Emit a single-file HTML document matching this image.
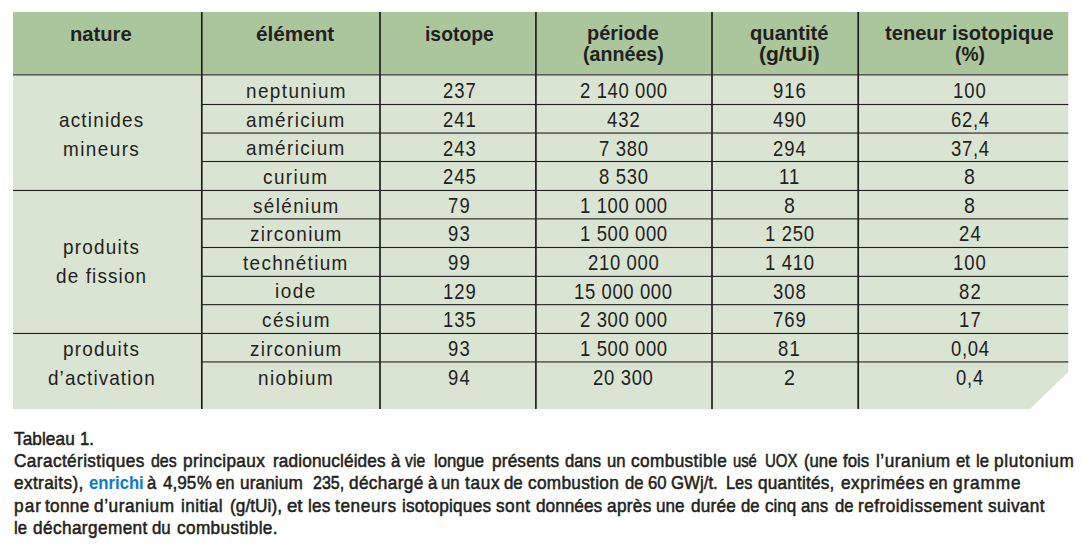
<!DOCTYPE html>
<html><head><meta charset="utf-8"><style>
html,body{margin:0;padding:0;background:#fff;width:1082px;height:545px;overflow:hidden;position:relative}
.t{position:absolute;white-space:nowrap;line-height:0;font-family:"Liberation Sans",sans-serif;color:#231f20;transform-origin:0 0}
.cap{-webkit-text-stroke:0.55px #231f20}
</style></head><body>
<svg style="position:absolute;left:0;top:0" width="1082" height="545" shape-rendering="geometricPrecision"><rect x="13" y="12" width="1055.3" height="62.5" fill="#abc69c"/><polygon points="13,74.5 1068.3,74.5 1068.3,372 1030,409 13,409" fill="#dae4d3"/><rect x="13" y="74.300" width="1055.3" height="1.1" fill="#231f20"/><rect x="201.8" y="103.950" width="866.5" height="1.1" fill="#231f20"/><rect x="201.8" y="132.500" width="866.5" height="1.1" fill="#231f20"/><rect x="201.8" y="160.950" width="866.5" height="1.1" fill="#231f20"/><rect x="13" y="189.910" width="1055.3" height="1.1" fill="#231f20"/><rect x="201.8" y="218.320" width="866.5" height="1.1" fill="#231f20"/><rect x="201.8" y="246.940" width="866.5" height="1.1" fill="#231f20"/><rect x="201.8" y="275.820" width="866.5" height="1.1" fill="#231f20"/><rect x="201.8" y="304.110" width="866.5" height="1.1" fill="#231f20"/><rect x="13" y="332.910" width="1055.3" height="1.1" fill="#231f20"/><rect x="201.8" y="361.380" width="866.5" height="1.1" fill="#231f20"/><rect x="200.950" y="12" width="1.7" height="397" fill="#231f20"/><rect x="379.150" y="12" width="1.7" height="397" fill="#231f20"/><rect x="535.050" y="12" width="1.7" height="397" fill="#231f20"/><rect x="711.150" y="12" width="1.7" height="397" fill="#231f20"/><rect x="857.350" y="12" width="1.7" height="397" fill="#231f20"/></svg>
<div class="t" style="left:70.15px;top:33.72px;font-size:21px;transform:scaleX(0.9611);font-weight:bold;">nature</div><div class="t" style="left:256.15px;top:33.62px;font-size:21px;transform:scaleX(0.9861);font-weight:bold;">élément</div><div class="t" style="left:424.60px;top:33.62px;font-size:21px;transform:scaleX(0.9210);font-weight:bold;">isotope</div><div class="t" style="left:587.30px;top:33.02px;font-size:21px;transform:scaleX(0.9460);font-weight:bold;">période</div><div class="t" style="left:582.75px;top:54.12px;font-size:21px;transform:scaleX(0.9363);font-weight:bold;">(années)</div><div class="t" style="left:750.05px;top:33.02px;font-size:21px;transform:scaleX(0.9608);font-weight:bold;">quantité</div><div class="t" style="left:758.95px;top:54.12px;font-size:21px;transform:scaleX(1.0017);font-weight:bold;">(g/tUi)</div><div class="t" style="left:885.45px;top:33.02px;font-size:21px;transform:scaleX(0.9574);font-weight:bold;">teneur isotopique</div><div class="t" style="left:954.80px;top:54.12px;font-size:21px;transform:scaleX(0.9174);font-weight:bold;">(%)</div><div class="t" style="left:245.51px;top:90.57px;font-size:21px;transform:scaleX(0.9000);letter-spacing:1.567px;">neptunium</div><div class="t" style="left:442.67px;top:91.03px;font-size:22px;transform:scaleX(0.8400);letter-spacing:1.092px;">237</div><div class="t" style="left:579.63px;top:91.03px;font-size:22px;transform:scaleX(0.8400);letter-spacing:0.728px;">2 140 000</div><div class="t" style="left:772.97px;top:91.03px;font-size:22px;transform:scaleX(0.8400);letter-spacing:1.092px;">916</div><div class="t" style="left:953.47px;top:91.03px;font-size:22px;transform:scaleX(0.8400);letter-spacing:1.092px;">100</div><div class="t" style="left:246.12px;top:119.57px;font-size:21px;transform:scaleX(0.9000);letter-spacing:1.548px;">américium</div><div class="t" style="left:442.67px;top:120.03px;font-size:22px;transform:scaleX(0.8400);letter-spacing:1.092px;">241</div><div class="t" style="left:606.87px;top:120.03px;font-size:22px;transform:scaleX(0.8400);letter-spacing:1.092px;">432</div><div class="t" style="left:772.97px;top:120.03px;font-size:22px;transform:scaleX(0.8400);letter-spacing:1.092px;">490</div><div class="t" style="left:950.75px;top:120.03px;font-size:22px;transform:scaleX(0.8400);letter-spacing:0.849px;">62,4</div><div class="t" style="left:246.12px;top:148.12px;font-size:21px;transform:scaleX(0.9000);letter-spacing:1.548px;">américium</div><div class="t" style="left:442.67px;top:148.58px;font-size:22px;transform:scaleX(0.8400);letter-spacing:1.092px;">243</div><div class="t" style="left:598.68px;top:148.58px;font-size:22px;transform:scaleX(0.8400);letter-spacing:0.820px;">7 380</div><div class="t" style="left:772.97px;top:148.58px;font-size:22px;transform:scaleX(0.8400);letter-spacing:1.092px;">294</div><div class="t" style="left:950.75px;top:148.58px;font-size:22px;transform:scaleX(0.8400);letter-spacing:0.849px;">37,4</div><div class="t" style="left:263.33px;top:176.57px;font-size:21px;transform:scaleX(0.9000);letter-spacing:1.610px;">curium</div><div class="t" style="left:442.67px;top:177.03px;font-size:22px;transform:scaleX(0.8400);letter-spacing:1.092px;">245</div><div class="t" style="left:598.68px;top:177.03px;font-size:22px;transform:scaleX(0.8400);letter-spacing:0.820px;">8 530</div><div class="t" style="left:779.15px;top:177.03px;font-size:22px;transform:scaleX(0.8400);letter-spacing:1.357px;">11</div><div class="t" style="left:964.37px;top:177.03px;font-size:22px;transform:scaleX(0.8900);">8</div><div class="t" style="left:252.67px;top:205.53px;font-size:21px;transform:scaleX(0.9000);letter-spacing:1.533px;">sélénium</div><div class="t" style="left:448.10px;top:205.99px;font-size:22px;transform:scaleX(0.8400);letter-spacing:1.458px;">79</div><div class="t" style="left:579.63px;top:205.99px;font-size:22px;transform:scaleX(0.8400);letter-spacing:0.728px;">1 100 000</div><div class="t" style="left:783.87px;top:205.99px;font-size:22px;transform:scaleX(0.8900);">8</div><div class="t" style="left:964.37px;top:205.99px;font-size:22px;transform:scaleX(0.8900);">8</div><div class="t" style="left:249.68px;top:233.94px;font-size:21px;transform:scaleX(0.9000);letter-spacing:1.436px;">zirconium</div><div class="t" style="left:448.10px;top:234.40px;font-size:22px;transform:scaleX(0.8400);letter-spacing:1.458px;">93</div><div class="t" style="left:579.63px;top:234.40px;font-size:22px;transform:scaleX(0.8400);letter-spacing:0.728px;">1 500 000</div><div class="t" style="left:764.78px;top:234.40px;font-size:22px;transform:scaleX(0.8400);letter-spacing:0.820px;">1 250</div><div class="t" style="left:958.90px;top:234.40px;font-size:22px;transform:scaleX(0.8400);letter-spacing:1.458px;">24</div><div class="t" style="left:243.18px;top:262.56px;font-size:21px;transform:scaleX(0.9000);letter-spacing:1.458px;">technétium</div><div class="t" style="left:448.10px;top:263.02px;font-size:22px;transform:scaleX(0.8400);letter-spacing:1.458px;">99</div><div class="t" style="left:587.82px;top:263.02px;font-size:22px;transform:scaleX(0.8400);letter-spacing:0.789px;">210 000</div><div class="t" style="left:764.78px;top:263.02px;font-size:22px;transform:scaleX(0.8400);letter-spacing:0.820px;">1 410</div><div class="t" style="left:953.47px;top:263.02px;font-size:22px;transform:scaleX(0.8400);letter-spacing:1.092px;">100</div><div class="t" style="left:275.15px;top:291.44px;font-size:21px;transform:scaleX(0.9000);letter-spacing:1.691px;">iode</div><div class="t" style="left:442.67px;top:291.90px;font-size:22px;transform:scaleX(0.8400);letter-spacing:1.092px;">129</div><div class="t" style="left:574.21px;top:291.90px;font-size:22px;transform:scaleX(0.8400);letter-spacing:0.728px;">15 000 000</div><div class="t" style="left:772.97px;top:291.90px;font-size:22px;transform:scaleX(0.8400);letter-spacing:1.092px;">308</div><div class="t" style="left:958.90px;top:291.90px;font-size:22px;transform:scaleX(0.8400);letter-spacing:1.458px;">82</div><div class="t" style="left:261.55px;top:319.73px;font-size:21px;transform:scaleX(0.9000);letter-spacing:1.699px;">césium</div><div class="t" style="left:442.67px;top:320.19px;font-size:22px;transform:scaleX(0.8400);letter-spacing:1.092px;">135</div><div class="t" style="left:579.63px;top:320.19px;font-size:22px;transform:scaleX(0.8400);letter-spacing:0.728px;">2 300 000</div><div class="t" style="left:772.97px;top:320.19px;font-size:22px;transform:scaleX(0.8400);letter-spacing:1.092px;">769</div><div class="t" style="left:958.90px;top:320.19px;font-size:22px;transform:scaleX(0.8400);letter-spacing:1.458px;">17</div><div class="t" style="left:249.68px;top:348.53px;font-size:21px;transform:scaleX(0.9000);letter-spacing:1.436px;">zirconium</div><div class="t" style="left:448.10px;top:348.99px;font-size:22px;transform:scaleX(0.8400);letter-spacing:1.458px;">93</div><div class="t" style="left:579.63px;top:348.99px;font-size:22px;transform:scaleX(0.8400);letter-spacing:0.728px;">1 500 000</div><div class="t" style="left:778.40px;top:348.99px;font-size:22px;transform:scaleX(0.8400);letter-spacing:1.458px;">81</div><div class="t" style="left:950.75px;top:348.99px;font-size:22px;transform:scaleX(0.8400);letter-spacing:0.849px;">0,04</div><div class="t" style="left:258.00px;top:377.90px;font-size:21px;transform:scaleX(0.9000);letter-spacing:1.565px;">niobium</div><div class="t" style="left:448.10px;top:378.36px;font-size:22px;transform:scaleX(0.8400);letter-spacing:1.458px;">94</div><div class="t" style="left:593.25px;top:378.36px;font-size:22px;transform:scaleX(0.8400);letter-spacing:0.801px;">20 300</div><div class="t" style="left:783.87px;top:378.36px;font-size:22px;transform:scaleX(0.8900);">2</div><div class="t" style="left:956.18px;top:378.36px;font-size:22px;transform:scaleX(0.8400);letter-spacing:0.911px;">0,4</div><div class="t" style="left:58.93px;top:120.02px;font-size:21px;transform:scaleX(0.9000);letter-spacing:1.324px;">actinides</div><div class="t" style="left:63.09px;top:149.42px;font-size:21px;transform:scaleX(0.9000);letter-spacing:1.591px;">mineurs</div><div class="t" style="left:63.09px;top:247.02px;font-size:21px;transform:scaleX(0.9000);letter-spacing:1.364px;">produits</div><div class="t" style="left:55.98px;top:275.82px;font-size:21px;transform:scaleX(0.9000);letter-spacing:1.259px;">de fission</div><div class="t" style="left:63.09px;top:349.22px;font-size:21px;transform:scaleX(0.9000);letter-spacing:1.364px;">produits</div><div class="t" style="left:47.66px;top:378.02px;font-size:21px;transform:scaleX(0.9000);letter-spacing:1.221px;">d’activation</div>
<div class="t cap" style="left:14.20px;top:439.39px;font-size:18.5px;letter-spacing:0.078px;transform:scaleX(0.9300);">Tableau</div><div class="t cap" style="left:79.87px;top:439.39px;font-size:18.5px;letter-spacing:0.000px;transform:scaleX(0.9000);">1.</div><div class="t cap" style="left:13.90px;top:461.44px;font-size:18.5px;letter-spacing:0.427px;transform:scaleX(0.9300);">Caractéristiques</div><div class="t cap" style="left:150.70px;top:461.44px;font-size:18.5px;letter-spacing:0.000px;transform:scaleX(0.8591);">des</div><div class="t cap" style="left:183.30px;top:461.44px;font-size:18.5px;letter-spacing:0.406px;transform:scaleX(0.9300);">principaux</div><div class="t cap" style="left:272.70px;top:461.44px;font-size:18.5px;letter-spacing:0.137px;transform:scaleX(0.9300);">radionucléides</div><div class="t cap" style="left:390.67px;top:461.44px;font-size:18.5px;letter-spacing:0.000px;transform:scaleX(0.9000);">à</div><div class="t cap" style="left:405.40px;top:461.44px;font-size:18.5px;letter-spacing:0.000px;transform:scaleX(0.8517);">vie</div><div class="t cap" style="left:433.80px;top:461.44px;font-size:18.5px;letter-spacing:0.000px;transform:scaleX(0.9029);">longue</div><div class="t cap" style="left:491.60px;top:461.44px;font-size:18.5px;letter-spacing:0.180px;transform:scaleX(0.9300);">présents</div><div class="t cap" style="left:565.00px;top:461.44px;font-size:18.5px;letter-spacing:0.000px;transform:scaleX(0.8978);">dans</div><div class="t cap" style="left:607.23px;top:461.44px;font-size:18.5px;letter-spacing:0.000px;transform:scaleX(0.9000);">un</div><div class="t cap" style="left:631.20px;top:461.44px;font-size:18.5px;letter-spacing:0.420px;transform:scaleX(0.9300);">combustible</div><div class="t cap" style="left:733.10px;top:461.44px;font-size:18.5px;letter-spacing:0.000px;transform:scaleX(0.7987);">usé</div><div class="t cap" style="left:765.30px;top:461.44px;font-size:18.5px;letter-spacing:0.000px;transform:scaleX(0.8105);">UOX</div><div class="t cap" style="left:804.10px;top:461.44px;font-size:18.5px;letter-spacing:0.000px;transform:scaleX(0.9027);">(une</div><div class="t cap" style="left:842.60px;top:461.44px;font-size:18.5px;letter-spacing:0.000px;transform:scaleX(0.9063);">fois</div><div class="t cap" style="left:875.50px;top:461.44px;font-size:18.5px;letter-spacing:0.572px;transform:scaleX(0.9300);">l’uranium</div><div class="t cap" style="left:956.17px;top:461.44px;font-size:18.5px;letter-spacing:0.000px;transform:scaleX(0.9000);">et</div><div class="t cap" style="left:975.52px;top:461.44px;font-size:18.5px;letter-spacing:0.000px;transform:scaleX(0.9000);">le</div><div class="t cap" style="left:994.20px;top:461.44px;font-size:18.5px;letter-spacing:0.714px;transform:scaleX(0.9300);">plutonium</div><div class="t cap" style="left:13.90px;top:483.49px;font-size:18.5px;letter-spacing:0.402px;transform:scaleX(0.9300);">extraits),</div><div class="t cap" style="left:88.70px;top:483.49px;font-size:18.5px;letter-spacing:0.000px;transform:scaleX(0.9028);font-weight:bold;color:#0b7bc4;-webkit-text-stroke:0px #0b7bc4;">enrichi</div><div class="t cap" style="left:147.37px;top:483.49px;font-size:18.5px;letter-spacing:0.000px;transform:scaleX(0.9000);">à</div><div class="t cap" style="left:162.50px;top:483.49px;font-size:18.5px;letter-spacing:0.000px;transform:scaleX(0.9250);">4,95</div><div class="t cap" style="left:196.97px;top:483.49px;font-size:18.5px;letter-spacing:0.000px;transform:scaleX(0.9000);">%</div><div class="t cap" style="left:216.28px;top:483.49px;font-size:18.5px;letter-spacing:0.000px;transform:scaleX(0.9000);">en</div><div class="t cap" style="left:240.10px;top:483.49px;font-size:18.5px;letter-spacing:0.103px;transform:scaleX(0.9300);">uranium</div><div class="t cap" style="left:313.20px;top:483.49px;font-size:18.5px;letter-spacing:0.000px;transform:scaleX(0.8667);">235,</div><div class="t cap" style="left:349.20px;top:483.49px;font-size:18.5px;letter-spacing:0.384px;transform:scaleX(0.9300);">déchargé</div><div class="t cap" style="left:427.87px;top:483.49px;font-size:18.5px;letter-spacing:0.000px;transform:scaleX(0.9000);">à</div><div class="t cap" style="left:440.58px;top:483.49px;font-size:18.5px;letter-spacing:0.000px;transform:scaleX(0.9000);">un</div><div class="t cap" style="left:464.60px;top:483.49px;font-size:18.5px;letter-spacing:0.735px;transform:scaleX(0.9300);">taux</div><div class="t cap" style="left:504.10px;top:483.49px;font-size:18.5px;letter-spacing:0.000px;transform:scaleX(0.9078);">de</div><div class="t cap" style="left:528.30px;top:483.49px;font-size:18.5px;letter-spacing:0.337px;transform:scaleX(0.9300);">combustion</div><div class="t cap" style="left:624.88px;top:483.49px;font-size:18.5px;letter-spacing:0.000px;transform:scaleX(0.9000);">de</div><div class="t cap" style="left:647.53px;top:483.49px;font-size:18.5px;letter-spacing:0.000px;transform:scaleX(0.9000);">60</div><div class="t cap" style="left:671.30px;top:483.49px;font-size:18.5px;letter-spacing:0.000px;transform:scaleX(0.9105);">GWj/t.</div><div class="t cap" style="left:725.80px;top:483.49px;font-size:18.5px;letter-spacing:0.000px;transform:scaleX(0.8826);">Les</div><div class="t cap" style="left:758.30px;top:483.49px;font-size:18.5px;letter-spacing:0.205px;transform:scaleX(0.9300);">quantités,</div><div class="t cap" style="left:841.10px;top:483.49px;font-size:18.5px;letter-spacing:0.520px;transform:scaleX(0.9300);">exprimées</div><div class="t cap" style="left:929.33px;top:483.49px;font-size:18.5px;letter-spacing:0.000px;transform:scaleX(0.9000);">en</div><div class="t cap" style="left:952.90px;top:483.49px;font-size:18.5px;letter-spacing:0.936px;transform:scaleX(0.9300);">gramme</div><div class="t cap" style="left:13.90px;top:505.54px;font-size:18.5px;letter-spacing:1.166px;transform:scaleX(0.9300);">par</div><div class="t cap" style="left:45.10px;top:505.54px;font-size:18.5px;letter-spacing:0.334px;transform:scaleX(0.9300);">tonne</div><div class="t cap" style="left:94.30px;top:505.54px;font-size:18.5px;letter-spacing:0.603px;transform:scaleX(0.9300);">d’uranium</div><div class="t cap" style="left:181.20px;top:505.54px;font-size:18.5px;letter-spacing:0.422px;transform:scaleX(0.9300);">initial</div><div class="t cap" style="left:229.70px;top:505.54px;font-size:18.5px;letter-spacing:0.059px;transform:scaleX(0.9300);">(g/tUi),</div><div class="t cap" style="left:287.30px;top:505.54px;font-size:18.5px;letter-spacing:0.000px;transform:scaleX(1.0065);">et</div><div class="t cap" style="left:307.60px;top:505.54px;font-size:18.5px;letter-spacing:0.135px;transform:scaleX(0.9300);">les</div><div class="t cap" style="left:334.70px;top:505.54px;font-size:18.5px;letter-spacing:0.649px;transform:scaleX(0.9300);">teneurs</div><div class="t cap" style="left:401.90px;top:505.54px;font-size:18.5px;letter-spacing:0.210px;transform:scaleX(0.9300);">isotopiques</div><div class="t cap" style="left:496.40px;top:505.54px;font-size:18.5px;letter-spacing:0.520px;transform:scaleX(0.9300);">sont</div><div class="t cap" style="left:536.00px;top:505.54px;font-size:18.5px;letter-spacing:0.013px;transform:scaleX(0.9300);">données</div><div class="t cap" style="left:606.90px;top:505.54px;font-size:18.5px;letter-spacing:0.360px;transform:scaleX(0.9300);">après</div><div class="t cap" style="left:656.10px;top:505.54px;font-size:18.5px;letter-spacing:0.000px;transform:scaleX(0.9223);">une</div><div class="t cap" style="left:690.60px;top:505.54px;font-size:18.5px;letter-spacing:0.245px;transform:scaleX(0.9300);">durée</div><div class="t cap" style="left:740.73px;top:505.54px;font-size:18.5px;letter-spacing:0.000px;transform:scaleX(0.9000);">de</div><div class="t cap" style="left:764.60px;top:505.54px;font-size:18.5px;letter-spacing:0.000px;transform:scaleX(0.9204);">cinq</div><div class="t cap" style="left:801.30px;top:505.54px;font-size:18.5px;letter-spacing:0.000px;transform:scaleX(0.9060);">ans</div><div class="t cap" style="left:834.68px;top:505.54px;font-size:18.5px;letter-spacing:0.000px;transform:scaleX(0.9000);">de</div><div class="t cap" style="left:858.10px;top:505.54px;font-size:18.5px;letter-spacing:0.511px;transform:scaleX(0.9300);">refroidissement</div><div class="t cap" style="left:988.30px;top:505.54px;font-size:18.5px;letter-spacing:0.341px;transform:scaleX(0.9300);">suivant</div><div class="t cap" style="left:13.62px;top:527.59px;font-size:18.5px;letter-spacing:0.000px;transform:scaleX(0.9000);">le</div><div class="t cap" style="left:32.60px;top:527.59px;font-size:18.5px;letter-spacing:0.428px;transform:scaleX(0.9300);">déchargement</div><div class="t cap" style="left:151.80px;top:527.59px;font-size:18.5px;letter-spacing:0.000px;transform:scaleX(0.9078);">du</div><div class="t cap" style="left:176.70px;top:527.59px;font-size:18.5px;letter-spacing:0.388px;transform:scaleX(0.9300);">combustible.</div>
</body></html>
